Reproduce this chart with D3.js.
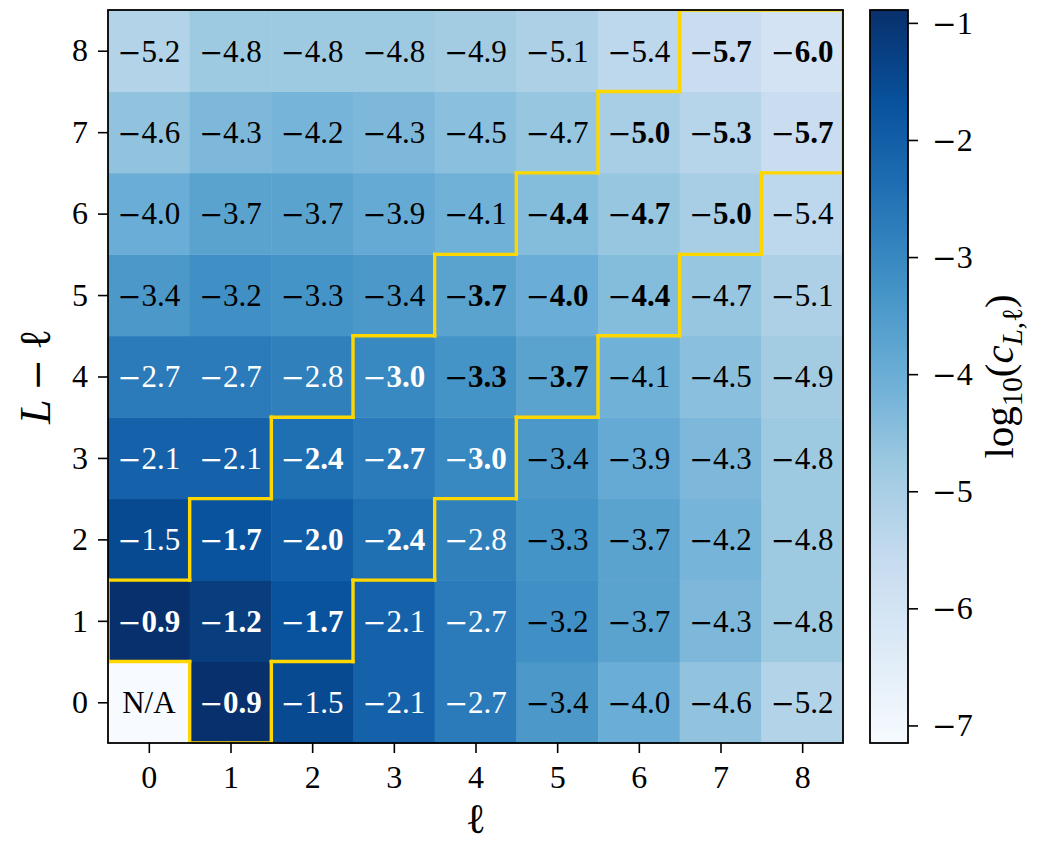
<!DOCTYPE html>
<html>
<head>
<meta charset="utf-8">
<script src="https://cdn.jsdelivr.net/npm/d3@7"></script>
<style>
  html, body { margin: 0; padding: 0; background: #fff; }
  svg { display: block; }
  text { font-family: "Liberation Serif", "DejaVu Serif", serif; }
</style>
</head>
<body>
<svg id="chart" width="1042" height="843"></svg>
<script>
// ℓ along the x axis, L − ℓ along the y axis
const ellValues = [0, 1, 2, 3, 4, 5, 6, 7, 8];
const offsetValues = [0, 1, 2, 3, 4, 5, 6, 7, 8];

// log10(c_{L,ℓ}); one row per L − ℓ (row index = L − ℓ), columns by ℓ; null = N/A
const logC = [
  [null, -0.9, -1.5, -2.1, -2.7, -3.4, -4.0, -4.6, -5.2],
  [-0.9, -1.2, -1.7, -2.1, -2.7, -3.2, -3.7, -4.3, -4.8],
  [-1.5, -1.7, -2.0, -2.4, -2.8, -3.3, -3.7, -4.2, -4.8],
  [-2.1, -2.1, -2.4, -2.7, -3.0, -3.4, -3.9, -4.3, -4.8],
  [-2.7, -2.7, -2.8, -3.0, -3.3, -3.7, -4.1, -4.5, -4.9],
  [-3.4, -3.2, -3.3, -3.4, -3.7, -4.0, -4.4, -4.7, -5.1],
  [-4.0, -3.7, -3.7, -3.9, -4.1, -4.4, -4.7, -5.0, -5.4],
  [-4.6, -4.3, -4.2, -4.3, -4.5, -4.7, -5.0, -5.3, -5.7],
  [-5.2, -4.8, -4.8, -4.8, -4.9, -5.1, -5.4, -5.7, -6.0]
];

// highlighted cells as [ℓ, L − ℓ]
const highlighted = [
  [1, 0],
  [0, 1], [1, 1], [2, 1],
  [1, 2], [2, 2], [3, 2],
  [2, 3], [3, 3], [4, 3],
  [3, 4], [4, 4], [5, 4],
  [4, 5], [5, 5], [6, 5],
  [5, 6], [6, 6], [7, 6],
  [6, 7], [7, 7], [8, 7],
  [7, 8], [8, 8]
];

const colorbarTicks = [-1, -2, -3, -4, -5, -6, -7];
const colorRange = [-7.15, -0.89];
const bluesStops = ["#f7fbff", "#deebf7", "#c6dbef", "#9ecae1", "#6baed6",
                    "#4292c6", "#2171b5", "#08519c", "#08306b"];
const textThreshold = -3.1;

const MINUS_FONT = "DejaVu Serif";
const svg = d3.select("#chart");
const plot = { left: 108, right: 843, top: 10, bottom: 743 };

const x = d3.scaleLinear().domain([-0.5, 8.5]).range([plot.left, plot.right]);
const y = d3.scaleLinear().domain([-0.5, 8.5]).range([plot.bottom, plot.top]);

const color = d3.scaleLinear()
  .domain(d3.range(bluesStops.length).map(i => colorRange[0] + i * (colorRange[1] - colorRange[0]) / (bluesStops.length - 1)))
  .range(bluesStops)
  .interpolate(d3.interpolateRgb)
  .clamp(true);

const cells = [];
logC.forEach((row, r) => row.forEach((v, l) => cells.push({ ell: l, off: r, v })));

const hlKey = new Set(highlighted.map(([l, r]) => l + "," + r));
const isHl = (l, r) => hlKey.has(l + "," + r);

// write a signed number with a long math-style minus sign
function signedText(sel, v, size, digitsWeight, digits) {
  sel.text(null);
  if (v < 0) {
    sel.append("tspan")
      .attr("font-family", MINUS_FONT)
      .attr("font-size", size * 0.92)
      .attr("font-weight", "normal")
      .text("\u2212");
  }
  sel.append("tspan")
    .attr("font-weight", digitsWeight)
    .text(digits);
}

svg.append("clipPath").attr("id", "plotClip")
  .append("rect")
  .attr("x", plot.left).attr("y", plot.top)
  .attr("width", plot.right - plot.left).attr("height", plot.bottom - plot.top);

// heatmap cells
const cellW = x(0.5) - x(-0.5);
const cellH = y(-0.5) - y(0.5);
svg.append("g").selectAll("rect").data(cells).join("rect")
  .attr("x", d => x(d.ell - 0.5))
  .attr("y", d => y(d.off + 0.5))
  .attr("width", cellW + 0.5)
  .attr("height", cellH + 0.5)
  .attr("fill", d => d.v === null ? color(colorRange[0]) : color(d.v));

// outline of the highlighted band
const edges = [];
highlighted.forEach(([l, r]) => {
  if (!isHl(l - 1, r)) edges.push([l - 0.5, r - 0.5, l - 0.5, r + 0.5]);
  if (!isHl(l + 1, r)) edges.push([l + 0.5, r - 0.5, l + 0.5, r + 0.5]);
  if (!isHl(l, r - 1)) edges.push([l - 0.5, r - 0.5, l + 0.5, r - 0.5]);
  if (!isHl(l, r + 1)) edges.push([l - 0.5, r + 0.5, l + 0.5, r + 0.5]);
});
svg.append("g").attr("clip-path", "url(#plotClip)")
  .selectAll("line").data(edges).join("line")
  .attr("x1", d => x(d[0])).attr("y1", d => y(d[1]))
  .attr("x2", d => x(d[2])).attr("y2", d => y(d[3]))
  .attr("stroke", "#ffd700")
  .attr("stroke-width", 3.4)
  .attr("stroke-linecap", "square");

// cell annotations
const ANN_SIZE = 31;
const labels = svg.append("g").selectAll("text").data(cells).join("text")
  .attr("x", d => x(d.ell))
  .attr("y", d => y(d.off))
  .attr("dy", "0.35em")
  .attr("text-anchor", "middle")
  .attr("font-size", ANN_SIZE)
  .attr("fill", d => (d.v !== null && d.v > textThreshold) ? "#ffffff" : "#000000");

labels.each(function (d) {
  const t = d3.select(this);
  if (d.v === null) { t.text("N/A"); return; }
  signedText(t, d.v, ANN_SIZE, isHl(d.ell, d.off) ? "bold" : "normal", Math.abs(d.v).toFixed(1));
});

// axes
const TICK_SIZE = 32;
function styleAxis(a) {
  a.select(".domain").remove();
  a.selectAll(".tick line").attr("stroke", "#000").attr("stroke-width", 1.6);
  a.selectAll(".tick text")
    .attr("font-family", "Liberation Serif, DejaVu Serif, serif")
    .attr("font-size", TICK_SIZE).attr("fill", "#000")
    .each(function (v) { signedText(d3.select(this), v, TICK_SIZE, "normal", String(Math.abs(v))); });
}

const xAxis = svg.append("g")
  .attr("transform", `translate(0,${plot.bottom})`)
  .call(d3.axisBottom(x).tickValues(ellValues).tickSize(10).tickPadding(12));
const yAxis = svg.append("g")
  .attr("transform", `translate(${plot.left},0)`)
  .call(d3.axisLeft(y).tickValues(offsetValues).tickSize(10).tickPadding(10));
styleAxis(xAxis);
styleAxis(yAxis);

// frame
svg.append("rect")
  .attr("x", plot.left).attr("y", plot.top)
  .attr("width", plot.right - plot.left).attr("height", plot.bottom - plot.top)
  .attr("fill", "none").attr("stroke", "#000").attr("stroke-width", 1.8);

// axis titles
svg.append("text")
  .attr("x", x(4)).attr("y", 833)
  .attr("text-anchor", "middle")
  .attr("font-size", 42)
  .text("\u2113");

const yTitle = svg.append("text")
  .attr("transform", `translate(50,${(plot.top + plot.bottom) / 2}) rotate(-90)`)
  .attr("text-anchor", "middle")
  .attr("font-size", 44);
yTitle.append("tspan").attr("font-style", "italic").text("L");
yTitle.append("tspan").text("\u2009");
yTitle.append("tspan").attr("font-family", MINUS_FONT).attr("font-size", 38).text("\u2212");
yTitle.append("tspan").text("\u2009");
yTitle.append("tspan").text("\u2113");

// colour bar
const cb = { left: 870, right: 908, top: 10, bottom: 743 };
const cbScale = d3.scaleLinear().domain(colorRange).range([cb.bottom, cb.top]);

const grad = svg.append("defs").append("linearGradient")
  .attr("id", "cbGrad").attr("x1", 0).attr("y1", 1).attr("x2", 0).attr("y2", 0);
d3.range(0, 1.0001, 0.02).forEach(t => {
  grad.append("stop")
    .attr("offset", t)
    .attr("stop-color", color(colorRange[0] + t * (colorRange[1] - colorRange[0])));
});

svg.append("rect")
  .attr("x", cb.left).attr("y", cb.top)
  .attr("width", cb.right - cb.left).attr("height", cb.bottom - cb.top)
  .attr("fill", "url(#cbGrad)")
  .attr("stroke", "#000").attr("stroke-width", 1.8);

const cbAxis = svg.append("g")
  .attr("transform", `translate(${cb.right},0)`)
  .call(d3.axisRight(cbScale).tickValues(colorbarTicks).tickSize(10).tickPadding(14));
styleAxis(cbAxis);

const cbTitle = svg.append("text")
  .attr("transform", `translate(1013,${(cb.top + cb.bottom) / 2}) rotate(-90)`)
  .attr("text-anchor", "middle")
  .attr("font-size", 41);
cbTitle.append("tspan").text("log");
cbTitle.append("tspan").attr("font-size", 29).attr("dy", 9).text("10");
cbTitle.append("tspan").attr("dy", -9).text("(");
cbTitle.append("tspan").attr("font-style", "italic").text("c");
cbTitle.append("tspan").attr("font-size", 29).attr("font-style", "italic").attr("dy", 9).text("L");
cbTitle.append("tspan").attr("font-size", 29).text(",");
cbTitle.append("tspan").attr("font-size", 29).text("\u2113");
cbTitle.append("tspan").attr("dy", -9).text(")");
</script>
</body>
</html>
